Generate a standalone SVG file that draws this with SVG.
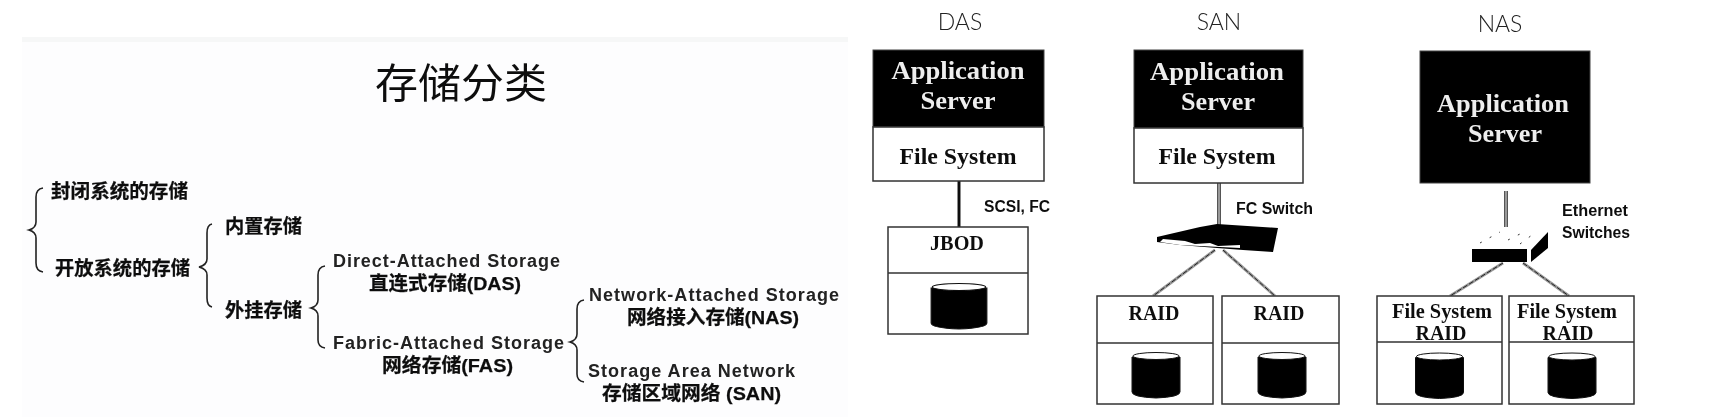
<svg xmlns="http://www.w3.org/2000/svg" width="1716" height="417" viewBox="0 0 1716 417">
<style>
.cn{font-family:"Liberation Sans","Noto Sans CJK SC",sans-serif;font-weight:700;font-size:19px;fill:#111;stroke:#111;stroke-width:.25}
.lt{font-family:"Liberation Sans","Noto Sans CJK SC",sans-serif;font-weight:700;font-size:18px;fill:#222}
.se{font-family:"Liberation Serif",serif;font-weight:700;fill:#111;text-anchor:middle}
.wh{fill:#eee;font-size:25px}
.md{font-size:23px}
.sm{font-size:21px}
.ss{font-family:"Liberation Sans",sans-serif;font-weight:700;font-size:16px;fill:#111}
.hd{font-family:"Lato","Open Sans",sans-serif;font-weight:300;font-size:23px;fill:#222;text-anchor:middle}
.box{fill:#fff;stroke:#333;stroke-width:1.5}
.blk{fill:#000;stroke:#444;stroke-width:1}
.br{fill:none;stroke:#222;stroke-width:1.6}
.cyl{fill:#000;stroke:#111;stroke-width:1}
.cap{fill:#fff;stroke:#111;stroke-width:1}
.wire{stroke:#999;stroke-width:3;fill:none}
.wire2{stroke:#222;stroke-width:1;stroke-dasharray:5 2;fill:none}
</style>
<defs>
<filter id="soft" x="-2%" y="-2%" width="104%" height="104%"><feGaussianBlur stdDeviation="0.45"/></filter>
<g id="cylinder">
<path class="cyl" d="M-24 -18V17Q-24 22 0 23Q24 22 24 17V-18Z"/>
<ellipse class="cap" cx="0" cy="-19" rx="23" ry="3.500"/>
</g>
</defs>
<rect width="1716" height="417" fill="#fff"/>
<g id="left-panel" filter="url(#soft)">
<rect x="22" y="37" width="826" height="5" fill="#f6f7f7"/>
<rect x="22" y="42" width="826" height="375" fill="#fdfdfe"/>
<text x="375" y="98" font-family="'Noto Sans CJK SC',sans-serif" font-size="41" fill="#111" textLength="172" lengthAdjust="spacingAndGlyphs">存储分类</text>
<text class="cn" x="51" y="198" textLength="137" lengthAdjust="spacingAndGlyphs">封闭系统的存储</text>
<text class="cn" x="55" y="275" textLength="135" lengthAdjust="spacingAndGlyphs">开放系统的存储</text>
<text class="cn" x="225" y="233" textLength="77" lengthAdjust="spacingAndGlyphs">内置存储</text>
<text class="cn" x="225" y="317" textLength="77" lengthAdjust="spacingAndGlyphs">外挂存储</text>
<text class="lt" x="333" y="267" textLength="227" lengthAdjust="spacing">Direct-Attached Storage</text>
<text class="cn" x="369" y="290" textLength="152" lengthAdjust="spacingAndGlyphs">直连式存储(DAS)</text>
<text class="lt" x="333" y="349" textLength="231" lengthAdjust="spacing">Fabric-Attached Storage</text>
<text class="cn" x="382" y="372" textLength="131" lengthAdjust="spacingAndGlyphs">网络存储(FAS)</text>
<text class="lt" x="589" y="301" textLength="250" lengthAdjust="spacing">Network-Attached Storage</text>
<text class="cn" x="627" y="324" textLength="172" lengthAdjust="spacingAndGlyphs">网络接入存储(NAS)</text>
<text class="lt" x="588" y="377" textLength="207" lengthAdjust="spacing">Storage Area Network</text>
<text class="cn" x="602" y="400" textLength="179" lengthAdjust="spacingAndGlyphs">存储区域网络 (SAN)</text>
<path class="br" d="M43 188Q36 189 36 197V222Q36 228 29 230Q36 232 36 238V263Q36 271 43 272"/>
<path class="br" d="M212 224Q207 225 207 233V259Q207 265 199 267Q207 269 207 275V298Q207 306 212 307"/>
<path class="br" d="M325 266Q318 267 318 275V300Q318 306 311 308Q318 310 318 316V340Q318 347 325 348"/>
<path class="br" d="M584 300Q577 301 577 309V334Q577 340 570 342Q577 344 577 350V374Q577 381 584 382"/>
</g>
<g id="connectors" filter="url(#soft)">
<line x1="959" y1="181" x2="959" y2="227" stroke="#111" stroke-width="3"/>
<line x1="1219" y1="183" x2="1219" y2="226" stroke="#555" stroke-width="4"/>
<line x1="1219" y1="183" x2="1219" y2="226" stroke="#ddd" stroke-width="1"/>
<line class="wire" x1="1215" y1="250" x2="1153" y2="296"/>
<line class="wire2" x1="1215" y1="250" x2="1153" y2="296"/>
<line class="wire" x1="1223" y1="250" x2="1275" y2="296"/>
<line class="wire2" x1="1223" y1="250" x2="1275" y2="296"/>
<line x1="1506" y1="191" x2="1506" y2="227" stroke="#555" stroke-width="4"/>
<line x1="1506" y1="191" x2="1506" y2="227" stroke="#ddd" stroke-width="1"/>
<line class="wire" x1="1503" y1="263" x2="1450" y2="296"/>
<line class="wire2" x1="1503" y1="263" x2="1450" y2="296"/>
<line class="wire" x1="1523" y1="263" x2="1569" y2="296"/>
<line class="wire2" x1="1523" y1="263" x2="1569" y2="296"/>
</g>
<g id="das" filter="url(#soft)">
<text class="hd" x="960" y="30">DAS</text>
<rect class="blk" x="873" y="50" width="171" height="77"/>
<rect class="box" x="873" y="127" width="171" height="54"/>
<text class="se wh" x="958" y="79" textLength="133" lengthAdjust="spacingAndGlyphs">Application</text>
<text class="se wh" x="958" y="109" textLength="75" lengthAdjust="spacingAndGlyphs">Server</text>
<text class="se md" x="958" y="164" textLength="117" lengthAdjust="spacingAndGlyphs">File System</text>
<text class="ss" x="984" y="212" textLength="66" lengthAdjust="spacingAndGlyphs">SCSI, FC</text>
</g>
<g id="jbod" filter="url(#soft)">
<rect class="box" x="888" y="227" width="140" height="107"/>
<line x1="888" y1="273" x2="1028" y2="273" stroke="#333" stroke-width="1.5"/>
<text class="se sm" x="957" y="250" textLength="54" lengthAdjust="spacingAndGlyphs">JBOD</text>
<use href="#cylinder" transform="translate(959 306) scale(1.16 1)"/>
</g>
<g id="san" filter="url(#soft)">
<text class="hd" x="1219" y="30">SAN</text>
<rect class="blk" x="1134" y="50" width="169" height="78"/>
<rect class="box" x="1134" y="128" width="169" height="55"/>
<text class="se wh" x="1217" y="80" textLength="134" lengthAdjust="spacingAndGlyphs">Application</text>
<text class="se wh" x="1218" y="110" textLength="74" lengthAdjust="spacingAndGlyphs">Server</text>
<text class="se md" x="1217" y="164" textLength="117" lengthAdjust="spacingAndGlyphs">File System</text>
<text class="ss" x="1236" y="214" textLength="77" lengthAdjust="spacingAndGlyphs">FC Switch</text>
</g>
<g id="fc-switch" filter="url(#soft)">
<path fill="#000" d="M1157 237L1200 227L1217 224L1278 228L1273 252L1243 250L1217 248L1180 245L1157 242Z"/>
<path fill="#fff" d="M1163 239L1185 241L1195 244L1210 243L1218 246L1240 245L1240 248L1180 245L1160 242Z"/>
</g>
<g id="san-raid-1" filter="url(#soft)">
<rect class="box" x="1097" y="296" width="116" height="108"/>
<line x1="1097" y1="343" x2="1213" y2="343" stroke="#333" stroke-width="1.5"/>
<text class="se sm" x="1154" y="320" textLength="51" lengthAdjust="spacingAndGlyphs">RAID</text>
<use href="#cylinder" transform="translate(1156 375)"/>
</g>
<g id="san-raid-2" filter="url(#soft)">
<rect class="box" x="1222" y="296" width="117" height="108"/>
<line x1="1222" y1="343" x2="1339" y2="343" stroke="#333" stroke-width="1.5"/>
<text class="se sm" x="1279" y="320" textLength="51" lengthAdjust="spacingAndGlyphs">RAID</text>
<use href="#cylinder" transform="translate(1282 375)"/>
</g>
<g id="nas" filter="url(#soft)">
<text class="hd" x="1500" y="32">NAS</text>
<rect class="blk" x="1420" y="51" width="170" height="132"/>
<text class="se wh" x="1503" y="112" textLength="132" lengthAdjust="spacingAndGlyphs">Application</text>
<text class="se wh" x="1505" y="142" textLength="74" lengthAdjust="spacingAndGlyphs">Server</text>
<text class="ss" x="1562" y="216" textLength="66" lengthAdjust="spacingAndGlyphs">Ethernet</text>
<text class="ss" x="1562" y="238" textLength="68" lengthAdjust="spacingAndGlyphs">Switches</text>
</g>
<g id="eth-switch" filter="url(#soft)">
<rect x="1472" y="249" width="55" height="13" fill="#000"/>
<path fill="#000" d="M1531 250L1548 232V248L1531 262Z"/>
<path stroke="#333" stroke-width="1" stroke-dasharray="2 9" fill="none" d="M1480 243L1500 232M1508 240L1520 234M1520 244L1536 232"/>
</g>
<g id="nas-raid-1" filter="url(#soft)">
<rect class="box" x="1377" y="296" width="125" height="108"/>
<line x1="1377" y1="342" x2="1502" y2="342" stroke="#333" stroke-width="1.5"/>
<text class="se sm" x="1442" y="318" textLength="100" lengthAdjust="spacingAndGlyphs">File System</text>
<text class="se sm" x="1441" y="340" textLength="51" lengthAdjust="spacingAndGlyphs">RAID</text>
<use href="#cylinder" transform="translate(1439.500 375.500)"/>
</g>
<g id="nas-raid-2" filter="url(#soft)">
<rect class="box" x="1509" y="296" width="125" height="108"/>
<line x1="1509" y1="342" x2="1634" y2="342" stroke="#333" stroke-width="1.5"/>
<text class="se sm" x="1567" y="318" textLength="100" lengthAdjust="spacingAndGlyphs">File System</text>
<text class="se sm" x="1568" y="340" textLength="51" lengthAdjust="spacingAndGlyphs">RAID</text>
<use href="#cylinder" transform="translate(1572 375.500)"/>
</g>
</svg>
